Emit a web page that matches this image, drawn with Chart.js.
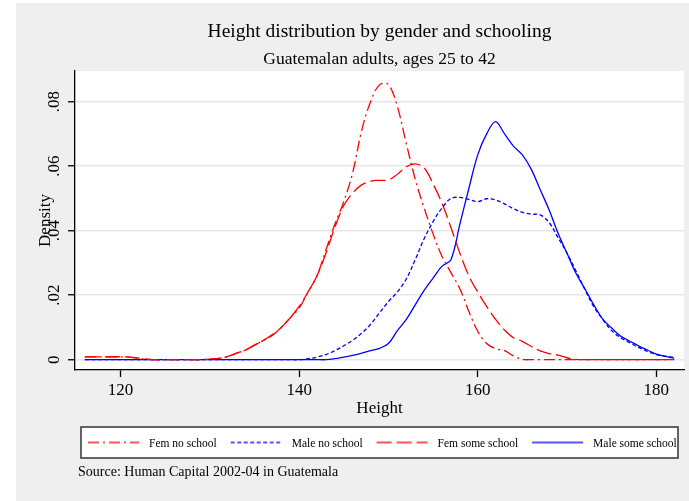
<!DOCTYPE html>
<html>
<head>
<meta charset="utf-8">
<script src="https://cdn.jsdelivr.net/npm/chart.js@4.4.1/dist/chart.umd.min.js"></script>
<style>
  html, body { margin: 0; padding: 0; background: #fff; }
  canvas { display: block; }
</style>
</head>
<body>
<canvas id="myChart" width="689" height="501"></canvas>
<script>
// heights in cm, one kernel density value per height for each group
const heights = [
    116, 117, 118, 119, 120, 121, 122, 123, 124, 125, 126, 127, 128, 129, 130, 131, 132,
    133, 134, 135, 136, 137, 138, 139, 140, 141, 142, 143, 144, 145, 146, 147, 148, 149,
    150, 151, 152, 153, 154, 155, 156, 157, 158, 159, 160, 161, 162, 163, 164, 165, 166,
    167, 168, 169, 170, 171, 172, 173, 174, 175, 176, 177, 178, 179, 180, 181, 182
];
const femNoSchool = [
    .0009, .0009, .0009, .0009, .0009, .0008, .0004, .0001, 0, 0, 0, 0, 0, 0, .0002, .0004, .001,
    .002, .003, .0045, .006, .0075, .010, .013, .016, .021, .026, .034, .042, .049, .058, .071, .080, .0852,
    .0853, .0785, .067, .056, .047, .039, .032, .027, .022, .015, .0088, .005, .0034, .0028, .0012, .0001, 0,
    0, 0, 0, 0, 0, 0, 0, 0, 0, 0, 0, 0, 0, 0, 0, 0
];
const maleNoSchool = [
    0, 0, 0, 0, 0, 0, 0, 0, 0, 0, 0, 0, 0, 0, 0, 0, 0,
    0, 0, 0, 0, 0, 0, 0, 0, .0003, .0008, .0016, .0028, .0043, .006, .0082, .011, .0145,
    .018, .021, .025, .031, .0375, .0428, .047, .050, .0503, .0497, .049, .0499, .0495, .0483, .0468, .0457, .0451,
    .0449, .0425, .0378, .033, .0275, .0218, .0164, .0125, .0090, .0068, .0053, .0038, .0026, .0016, .0011, .0007
];
const femSomeSchool = [
    .0009, .0009, .0009, .0009, .0009, .0008, .0005, .0002, 0, 0, 0, 0, 0, 0, .0002, .0004, .001,
    .002, .003, .0045, .006, .0078, .010, .013, .0165, .021, .026, .033, .041, .0478, .0517, .0542, .0553, .0556,
    .0557, .0575, .0598, .0607, .0595, .0545, .0485, .041, .033, .026, .021, .0165, .0125, .0092, .0068, .0057, .0041,
    .0027, .0019, .0014, .0006, .0001, 0, 0, 0, 0, 0, 0, 0, 0, 0, 0, 0
];
const maleSomeSchool = [
    0, 0, 0, 0, 0, 0, 0, 0, 0, 0, 0, 0, 0, 0, 0, 0, 0,
    0, 0, 0, 0, 0, 0, 0, 0, 0, 0, 0, .0003, .0008, .0013, .002, .0028, .0035,
    .005, .009, .0125, .017, .0215, .0253, .029, .031, .042, .053, .0635, .070, .0738, .070, .0662, .0635, .059,
    .0527, .0464, .0392, .033, .0268, .022, .017, .0126, .0098, .0073, .0058, .0043, .003, .0017, .001, .0004
];

const seriesLabels = ['Fem no school', 'Male no school', 'Fem some school', 'Male some school'];
const xTicks = [120, 140, 160, 180];
const yTicks = [0, .02, .04, .06, .08];
const yTickLabels = ['0', '.02', '.04', '.06', '.08'];

const serif = 'Liberation Serif';

const toPoints = (ys) => heights.map((h, i) => ({ x: h, y: ys[i] }));

// stata style frame: gray page, white plot region, titles, boxed legend and note
const stataFrame = {
    id: 'stataFrame',
    beforeDraw(chart) {
        const { ctx, chartArea: a } = chart;
        ctx.save();
        ctx.fillStyle = '#fff';
        ctx.fillRect(0, 0, chart.width, chart.height);
        ctx.fillStyle = '#efefef';
        ctx.fillRect(16, 3, chart.width - 16, chart.height - 3);
        ctx.fillStyle = '#fff';
        ctx.fillRect(a.left, a.top, a.right - a.left, a.bottom - a.top);
        ctx.restore();
    },
    afterDraw(chart) {
        const { ctx, chartArea: a } = chart;
        const cx = (a.left + a.right) / 2;
        ctx.save();
        ctx.fillStyle = '#000';
        ctx.textAlign = 'center';
        ctx.textBaseline = 'alphabetic';
        ctx.font = '19.5px "' + serif + '"';
        ctx.fillText('Height distribution by gender and schooling', cx, 37);
        ctx.font = '17.5px "' + serif + '"';
        ctx.fillText('Guatemalan adults, ages 25 to 42', cx, 64);

        // legend box
        const boxL = a.left + 6, boxR = a.right - 6, boxT = 427, boxH = 31;
        ctx.fillStyle = '#fff';
        ctx.fillRect(boxL, boxT, boxR - boxL, boxH);
        ctx.strokeStyle = '#333';
        ctx.lineWidth = 1.5;
        ctx.strokeRect(boxL, boxT, boxR - boxL, boxH);

        const midY = boxT + boxH / 2;
        ctx.font = '11.5px "' + serif + '"';
        ctx.textAlign = 'left';
        ctx.textBaseline = 'middle';
        let x = boxL + 7;
        chart.data.datasets.forEach(ds => {
            ctx.save();
            ctx.strokeStyle = ds.legendColor;
            ctx.lineWidth = 2;
            ctx.setLineDash(ds.borderDash || []);
            ctx.beginPath();
            ctx.moveTo(x, midY);
            ctx.lineTo(x + 51, midY);
            ctx.stroke();
            ctx.restore();
            x += 51 + 10;
            ctx.fillStyle = '#000';
            ctx.fillText(ds.label, x, midY + 1);
            x += ctx.measureText(ds.label).width + 14;
        });

        ctx.font = '14px "' + serif + '"';
        ctx.textBaseline = 'alphabetic';
        ctx.fillText('Source: Human Capital 2002-04 in Guatemala', 78, 476);
        ctx.restore();
    }
};

const lineStyle = (label, ys, color, legendColor, dash) => ({
    label: label,
    data: toPoints(ys),
    borderColor: color,
    legendColor: legendColor,
    borderWidth: 1.3,
    borderDash: dash,
    pointRadius: 0,
    tension: 0.35,
    fill: false
});

const initChart = () => {
    const ctx = document.getElementById('myChart').getContext('2d');
    new Chart(ctx, {
        type: 'line',
        data: {
            datasets: [
                lineStyle(seriesLabels[0], femNoSchool, '#ff0000', 'rgba(255,40,40,0.8)', [11, 4, 2, 4]),
                lineStyle(seriesLabels[1], maleNoSchool, '#0000ff', 'rgba(40,40,255,0.8)', [4, 2.5]),
                lineStyle(seriesLabels[2], femSomeSchool, '#ff0000', 'rgba(255,40,40,0.8)', [15, 5]),
                lineStyle(seriesLabels[3], maleSomeSchool, '#0000ff', 'rgba(40,40,255,0.8)', [])
            ]
        },
        options: {
            responsive: false,
            animation: false,
            devicePixelRatio: 1,
            layout: { padding: { left: 16, top: 71, right: 5, bottom: 81 } },
            plugins: {
                legend: { display: false },
                title: { display: false },
                tooltip: { enabled: false }
            },
            scales: {
                x: {
                    type: 'linear',
                    min: 114.9,
                    max: 183.1,
                    afterBuildTicks: (s) => { s.ticks = xTicks.map(v => ({ value: v })); },
                    afterFit: (s) => { s.height = 50; },
                    ticks: {
                        color: '#000',
                        font: { family: serif, size: 17 },
                        padding: 3,
                        maxRotation: 0
                    },
                    grid: { drawOnChartArea: false, tickLength: 7, tickColor: '#000', tickWidth: 1.3 },
                    border: { color: '#000', width: 1.3 },
                    title: {
                        display: true,
                        text: 'Height',
                        color: '#000',
                        font: { family: serif, size: 17 },
                        padding: { top: 0, bottom: 1 }
                    }
                },
                y: {
                    min: -0.0032,
                    max: 0.0895,
                    afterBuildTicks: (s) => { s.ticks = yTicks.map(v => ({ value: v })); },
                    afterFit: (s) => { s.width = 59; },
                    ticks: {
                        color: '#000',
                        font: { family: serif, size: 17 },
                        padding: 3,
                        minRotation: 90,
                        maxRotation: 90,
                        crossAlign: 'center',
                        callback: (v) => {
                            const i = yTicks.findIndex(t => Math.abs(t - v) < 1e-9);
                            return i >= 0 ? yTickLabels[i] : '';
                        }
                    },
                    grid: { color: '#e6e6e6', lineWidth: 1.5, tickLength: 7, tickColor: '#000', tickWidth: 1.3 },
                    border: { color: '#000', width: 1.3 },
                    title: {
                        display: true,
                        text: 'Density',
                        color: '#000',
                        font: { family: serif, size: 17 },
                        padding: { top: 19, bottom: 0 }
                    }
                }
            }
        },
        plugins: [stataFrame]
    });
};

document.addEventListener('DOMContentLoaded', initChart);
</script>
</body>
</html>
